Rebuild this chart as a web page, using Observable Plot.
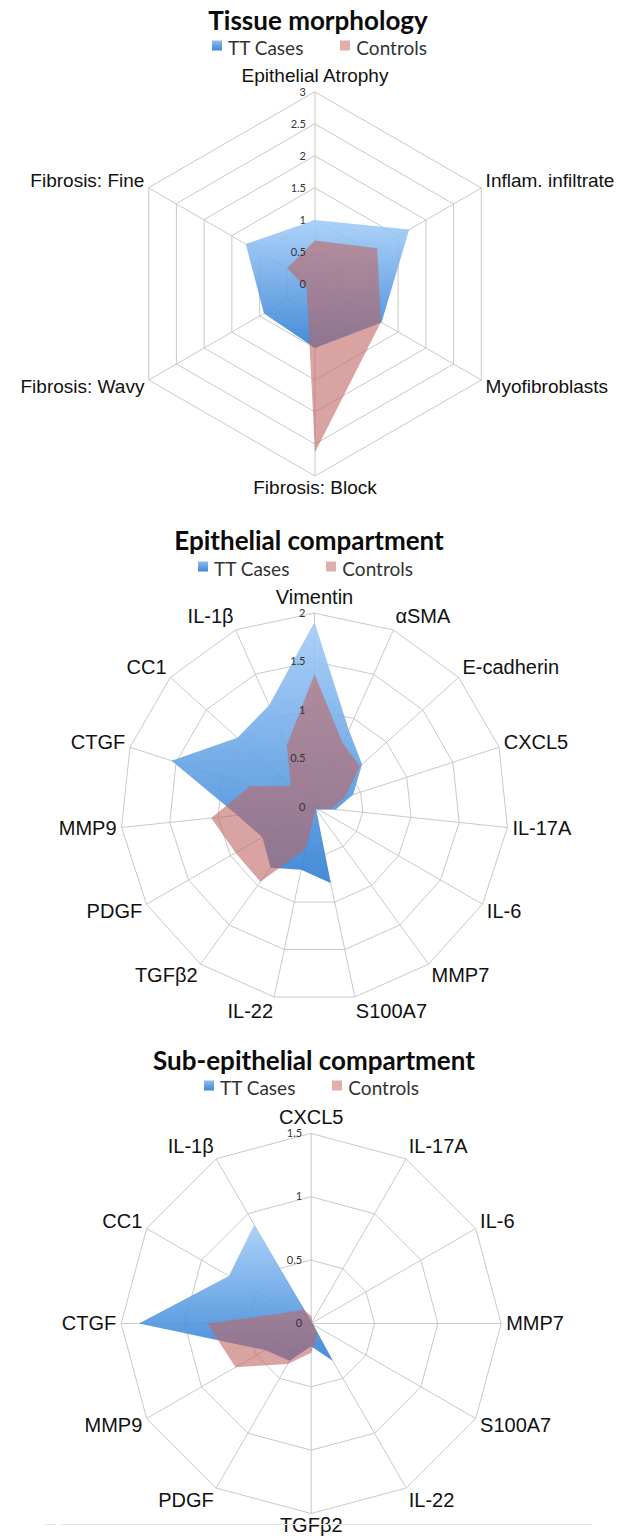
<!DOCTYPE html>
<html>
<head>
<meta charset="utf-8">
<script src="https://cdn.jsdelivr.net/npm/d3@7"></script>
<script src="https://cdn.jsdelivr.net/npm/@observablehq/plot@0.6"></script>
<style>
html, body { margin: 0; padding: 0; background: #fff; }
#page { position: relative; width: 619px; height: 1538px; overflow: hidden; background: #fff; }
.title { position: absolute; font-family: Lato, "Open Sans", sans-serif; font-weight: 700; font-size: 26px; color: #0a0a0a; white-space: nowrap; transform: translate(-50%, -50%); line-height: 1; }
.legend { position: absolute; font-family: Lato, "Open Sans", sans-serif; font-size: 19px; color: #333; white-space: nowrap; display: flex; align-items: center; transform: translateY(-50%); line-height: 1; }
.sw { display: inline-block; width: 10px; height: 10px; margin-right: 6px; position: relative; top: -2px; }
.sw.cases { background: linear-gradient(#8fbdf0, #3d86d6); }
.sw.controls { background: #e2aeac; margin-left: 37px; }
.chart { position: absolute; left: 0; }
.frame { position: absolute; height: 0; border-top: 1px solid #e4e4e4; }
</style>
</head>
<body>
<div id="page"></div>
<script>
// ---------- data ----------
const morphAxes = ["Epithelial Atrophy", "Inflam. infiltrate", "Myofibroblasts", "Fibrosis: Block", "Fibrosis: Wavy", "Fibrosis: Fine"];
const morphCases = [1.0, 1.7, 1.2, 1.0, 0.92, 1.25];
const morphControls = [0.68, 1.12, 1.19, 2.63, 0.15, 0.5];
const morphTicks = [0, 0.5, 1, 1.5, 2, 2.5, 3];

const epiAxes = ["Vimentin", "αSMA", "E-cadherin", "CXCL5", "IL-17A", "IL-6", "MMP7", "S100A7", "IL-22", "TGFβ2", "PDGF", "MMP9", "CTGF", "CC1", "IL-1β"];
const epiCases = [1.91, 0.87, 0.66, 0.42, 0.22, 0.05, 0.03, 0.80, 0.66, 0.77, 0.62, 0.80, 1.55, 1.07, 1.15];
const epiControls = [1.37, 0.72, 0.63, 0.33, 0.17, 0.03, 0.02, 0.04, 0.44, 0.95, 0.94, 1.07, 0.70, 0.33, 0.70];
const epiTicks = [0, 0.5, 1, 1.5, 2];

const subAxes = ["CXCL5", "IL-17A", "IL-6", "MMP7", "S100A7", "IL-22", "TGFβ2", "PDGF", "MMP9", "CTGF", "CC1", "IL-1β"];
const subCases = [0.02, 0.01, 0.01, 0.01, 0.02, 0.34, 0.18, 0.34, 0.42, 1.36, 0.75, 0.90];
const subControls = [0.06, 0.02, 0.01, 0.01, 0.02, 0.10, 0.23, 0.37, 0.69, 0.82, 0.18, 0.13];
const subTicks = [0, 0.5, 1, 1.5];

const seriesNames = ["TT Cases", "Controls"];
const chartTitles = ["Tissue morphology", "Epithelial compartment", "Sub-epithelial compartment"];

// ---------- layout ----------
const charts = [
  {title: chartTitles[0], axes: morphAxes, cases: morphCases, controls: morphControls, ticks: morphTicks, labelSize: 19,
   top: 60, height: 440, cx: 314.5, cy: 223.5, R: 192, titleX: 318, titleY: 20, legendX: 212, legendY: 47},
  {title: chartTitles[1], axes: epiAxes, cases: epiCases, controls: epiControls, ticks: epiTicks, labelSize: 20,
   top: 580, height: 440, cx: 314, cy: 226.7, R: 194, titleX: 309, titleY: 540, legendX: 198, legendY: 568},
  {title: chartTitles[2], axes: subAxes, cases: subCases, controls: subControls, ticks: subTicks, labelSize: 20,
   top: 1100, height: 438, cx: 310.7, cy: 223, R: 190, titleX: 314, titleY: 1060, legendX: 204, legendY: 1087}
];

const page = document.getElementById("page");
const labelFont = "'Liberation Sans', Arial, sans-serif";

charts.forEach((c, ci) => {
  const n = c.axes.length;
  const max = d3.max(c.ticks);
  const ang = i => 2 * Math.PI * i / n;
  const pts = vals => vals.map((v, i) => ({axis: c.axes[i], x: (v / max) * Math.sin(ang(i)), y: (v / max) * Math.cos(ang(i))}));
  const rings = c.ticks.filter(t => t > 0).flatMap(t => c.axes.map((a, i) => ({t, x: (t / max) * Math.sin(ang(i)), y: (t / max) * Math.cos(ang(i))})));
  const spokes = c.axes.map((a, i) => ({x: Math.sin(ang(i)), y: Math.cos(ang(i))}));
  const gap = 5, half = 9.5;
  const labels = c.axes.map((a, i) => {
    const s = Math.sin(ang(i)), co = Math.cos(ang(i));
    const vertical = Math.abs(s) < 0.05;
    const off = vertical ? (co > 0 ? 16 : 12) : gap + half;
    return {
      text: a,
      x: s * (c.R + gap) / c.R,
      y: co * (c.R + off) / c.R,
      anchor: vertical ? "middle" : (s > 0 ? "start" : "end")
    };
  });
  const gradId = "casesGrad" + ci;
  const labelMark = anchor => Plot.text(labels.filter(d => d.anchor === anchor), {
    x: "x", y: "y", text: "text", textAnchor: anchor, fontSize: c.labelSize, fill: "#111", fontFamily: labelFont
  });

  const el = Plot.plot({
    width: 619, height: c.height, margin: 0,
    x: {domain: [-1, 1], range: [c.cx - c.R, c.cx + c.R], axis: null},
    y: {domain: [-1, 1], range: [c.cy + c.R, c.cy - c.R], axis: null},
    style: {background: "transparent", overflow: "visible"},
    marks: [
      Plot.line(rings, {x: "x", y: "y", z: "t", curve: "linear-closed", stroke: "#c9c9c9", strokeWidth: 1}),
      Plot.link(spokes, {x1: 0, y1: 0, x2: "x", y2: "y", stroke: "#c9c9c9", strokeWidth: 1}),
      Plot.line(pts(c.cases), {x: "x", y: "y", curve: "linear-closed", fill: `url(#${gradId})`, stroke: "none"}),
      Plot.line(pts(c.controls), {x: "x", y: "y", curve: "linear-closed", fill: "#c06662", fillOpacity: 0.6, stroke: "none"}),
      Plot.text(c.ticks, {x: 0, y: t => t / max, text: t => String(t), textAnchor: "end", dx: -9, fontSize: 11, fill: "#333", fontFamily: "Lato, sans-serif"}),
      labelMark("middle"), labelMark("start"), labelMark("end")
    ]
  });
  const svg = el.tagName.toLowerCase() === "svg" ? el : el.querySelector("svg");
  const defs = d3.select(svg).insert("defs", ":first-child");
  const lg = defs.append("linearGradient").attr("id", gradId).attr("x1", 0).attr("y1", 0).attr("x2", 0).attr("y2", 1);
  lg.append("stop").attr("offset", "0%").attr("stop-color", "#a2ccf8").attr("stop-opacity", 0.88);
  lg.append("stop").attr("offset", "100%").attr("stop-color", "#2f7ed3").attr("stop-opacity", 0.9);

  el.classList.add("chart");
  el.style.position = "absolute";
  el.style.top = c.top + "px";
  el.style.left = "0px";
  page.appendChild(el);

  const t = document.createElement("div");
  t.className = "title";
  t.textContent = c.title;
  t.style.left = c.titleX + "px";
  t.style.top = c.titleY + "px";
  page.appendChild(t);

  const lgd = document.createElement("div");
  lgd.className = "legend";
  lgd.style.left = c.legendX + "px";
  lgd.style.top = c.legendY + "px";
  lgd.innerHTML = `<span class="sw cases"></span><span>${seriesNames[0]}</span><span class="sw controls"></span><span>${seriesNames[1]}</span>`;
  page.appendChild(lgd);
});

// faint frame line at the bottom of the last panel
const f1 = document.createElement("div");
f1.className = "frame"; f1.style.left = "44px"; f1.style.width = "12px"; f1.style.top = "1524px";
page.appendChild(f1);
const f2 = document.createElement("div");
f2.className = "frame"; f2.style.left = "60px"; f2.style.width = "532px"; f2.style.top = "1524px";
page.appendChild(f2);
</script>
</body>
</html>
